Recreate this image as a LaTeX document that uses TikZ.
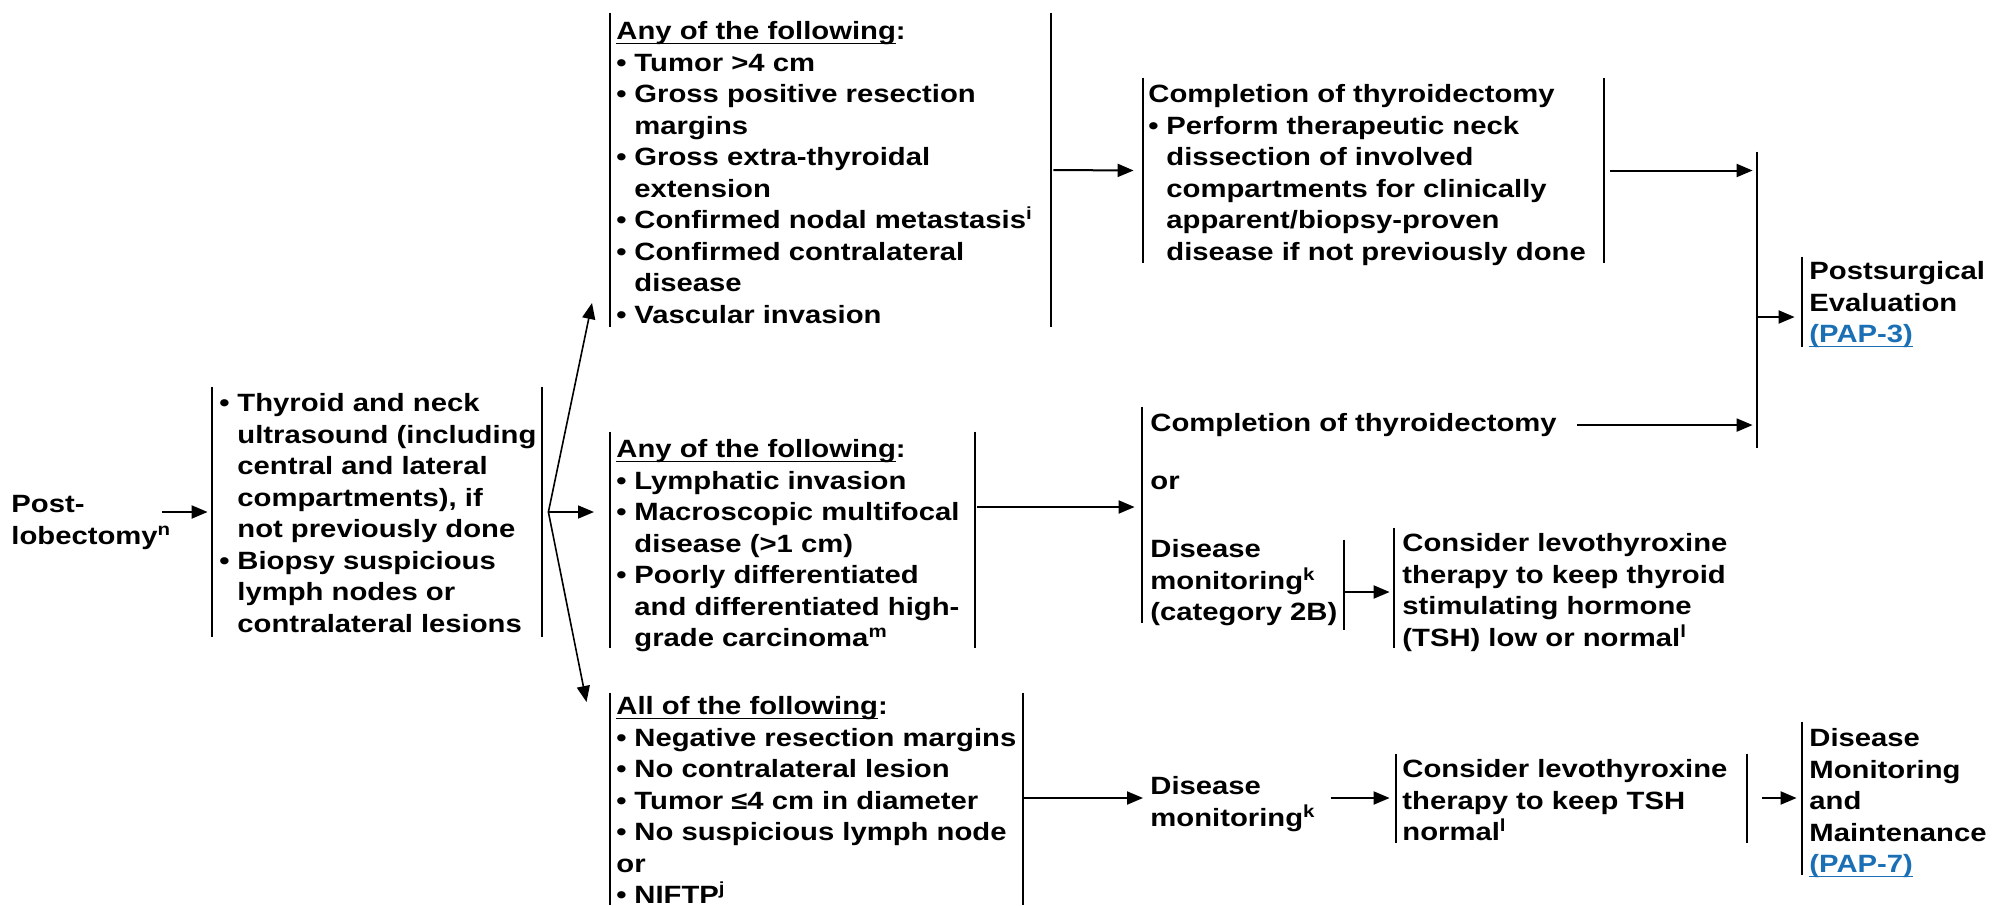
\documentclass[tikz,border=0pt]{standalone}
\usepackage{fontspec}
\setmainfont{Liberation Sans}[FakeStretch=1.17]
\usetikzlibrary{arrows.meta,fit,calc}
\definecolor{linkblue}{HTML}{1B6FB5}
% bullet with hanging indent, and the matching indent for continuation lines
\newcommand\bl{\makebox[9pt][l]{•}}
\newcommand\ind{\hspace*{9pt}}
% underline sitting just below the baseline
\newcommand\ulx[1]{\setbox0\hbox{#1}\leavevmode\rlap{\rule[-2.3pt]{\wd0}{0.75pt}}\box0}
\newcommand\lnk[1]{\textcolor{linkblue}{\ulx{#1}}}
\begin{document}
\begin{tikzpicture}[x=0.5pt,y=-0.5pt,
  txt/.style={inner sep=0pt, anchor=north west, align=left,
              font=\fontsize{12.5pt}{15.75pt}\selectfont\bfseries},
  frm/.style={inner sep=0pt, draw=none},
  bar/.style={line width=1pt},
  arr/.style={line width=1pt, -{Triangle[length=8pt,width=6.5pt]}},
  fanarr/.style={arr, line width=0.8pt}]
\useasboundingbox (0,0) rectangle (1997,905);

% ---------- frames (vertical bars) ----------
\node[frm, fit={(212,387)(542,637)}]   (boxB) {};
\node[frm, fit={(610,13)(1051,327)}]   (boxA) {};
\node[frm, fit={(610,432)(975,648)}]   (boxC) {};
\node[frm, fit={(610,693)(1023,905)}]  (boxD) {};
\node[frm, fit={(1143,78)(1604,263)}]  (boxE) {};
\node[frm, fit={(1757,152)(1757,448)}] (coll) {};
\node[frm, fit={(1803,257)(1803,347)}] (boxP) {};
\node[frm, fit={(1143,407)(1143,623)}] (boxF) {};
\node[frm, fit={(1143,540)(1344,630)}] (boxDM) {};
\node[frm, fit={(1395,528)(1395,648)}] (boxG) {};
\node[frm, fit={(1396,754)(1747,843)}] (boxH) {};
\node[frm, fit={(1803,722)(1803,875)}] (boxI) {};

\foreach \b in {boxB,boxA,boxC,boxD,boxE,boxH}
  \draw[bar] (\b.north west) -- (\b.south west) (\b.north east) -- (\b.south east);
\foreach \b in {boxP,boxF,boxG,boxI}
  \draw[bar] (\b.north west) -- (\b.south west);
\draw[bar] (boxDM.north east) -- (boxDM.south east);
\draw[bar] (coll.north) -- (coll.south);

% ---------- texts ----------
\node[txt] (post) at (11,495) {Post-\\lobectomy\textsuperscript{n}};

\node[txt] (tB) at (219,393) {\bl Thyroid and neck\\
\ind ultrasound (including\\
\ind central and lateral\\
\ind compartments), if\\
\ind not previously done\\
\bl Biopsy suspicious\\
\ind lymph nodes or\\
\ind contralateral lesions};

\node[txt] (tA) at (616,21) {\ulx{Any of the following}:\\
\bl Tumor >4 cm\\
\bl Gross positive resection\\
\ind margins\\
\bl Gross extra-thyroidal\\
\ind extension\\
\bl Confirmed nodal metastasis\textsuperscript{i}\\
\bl Confirmed contralateral\\
\ind disease\\
\bl Vascular invasion};

\node[txt] (tC) at (616,439) {\ulx{Any of the following}:\\
\bl Lymphatic invasion\\
\bl Macroscopic multifocal\\
\ind disease (>1 cm)\\
\bl Poorly differentiated\\
\ind and differentiated high-\\
\ind grade carcinoma\textsuperscript{m}};

\node[txt] (tD) at (616,696) {\ulx{All of the following}:\\
\bl Negative resection margins\\
\bl No contralateral lesion\\
\bl Tumor ≤4 cm in diameter\\
\bl No suspicious lymph node\\
or\\
\bl NIFTP\textsuperscript{j}};

\node[txt] (tE) at (1148,84) {Completion of thyroidectomy\\
\bl Perform therapeutic neck\\
\ind dissection of involved\\
\ind compartments for clinically\\
\ind apparent/biopsy-proven\\
\ind disease if not previously done};

\node[txt] (tP) at (1809,261) {Postsurgical\\Evaluation\\\lnk{(PAP-3)}};

\node[txt] (f1) at (1150,413) {Completion of thyroidectomy};
\node[txt] (f2) at (1150,476) {or};
\node[txt] (f3) at (1150,539) {Disease\\monitoring\textsuperscript{k}\\(category 2B)};

\node[txt] (tG) at (1402,533) {Consider levothyroxine\\therapy to keep thyroid\\stimulating hormone\\(TSH) low or normal\textsuperscript{l}};

\node[txt] (dm2) at (1150,776) {Disease\\monitoring\textsuperscript{k}};
\node[txt] (tH) at (1402,759) {Consider levothyroxine\\therapy to keep TSH\\normal\textsuperscript{l}};
\node[txt] (tI) at (1809,728) {Disease\\Monitoring\\and\\Maintenance\\\lnk{(PAP-7)}};

% ---------- connector helpers ----------
\coordinate (fan)  at ([xshift=3pt]boxB.east);
\coordinate (tipA) at (592,303);
\coordinate (tipC) at (594,512);
\coordinate (tipD) at (586.5,702);
\coordinate (cY) at (0,507);
\coordinate (gY) at (0,592);
\coordinate (pY) at (0,317);
\coordinate (rowY) at (0,798);

% ---------- connectors ----------
\draw[arr] ([xshift=-5pt]post.east |- boxB.west) -- ([xshift=-2pt]boxB.west);
\draw[fanarr] (fan) -- (tipA);
\draw[fanarr] (fan) -- (tipC);
\draw[fanarr] (fan) -- (tipD);
\draw[arr] ([xshift=1pt]boxA.east) -- ([xshift=-4.5pt]boxE.west);
\draw[arr] ([xshift=3pt]boxE.east) -- ([xshift=-1.5pt]coll.west |- boxE.east);
\draw[arr] (coll.east |- pY) -- ([xshift=-3.5pt]boxP.west |- pY);
\draw[arr] ([xshift=10pt]f1.east) -- ([xshift=-1.5pt]coll.west |- f1.east);
\draw[arr] ([xshift=1pt]boxC.east |- cY) -- ([xshift=-3.5pt]boxF.west |- cY);
\draw[arr] (boxDM.east |- gY) -- ([xshift=-2pt]boxG.west |- gY);
\draw[arr] (boxD.east |- rowY) -- ([xshift=-3.5pt]dm2.west |- rowY);
\draw[arr] ([xshift=7.5pt]dm2.east |- rowY) -- ([xshift=-3pt]boxH.west |- rowY);
\draw[arr] ([xshift=7.5pt]boxH.east |- rowY) -- ([xshift=-2.5pt]boxI.west |- rowY);
\end{tikzpicture}
\end{document}
